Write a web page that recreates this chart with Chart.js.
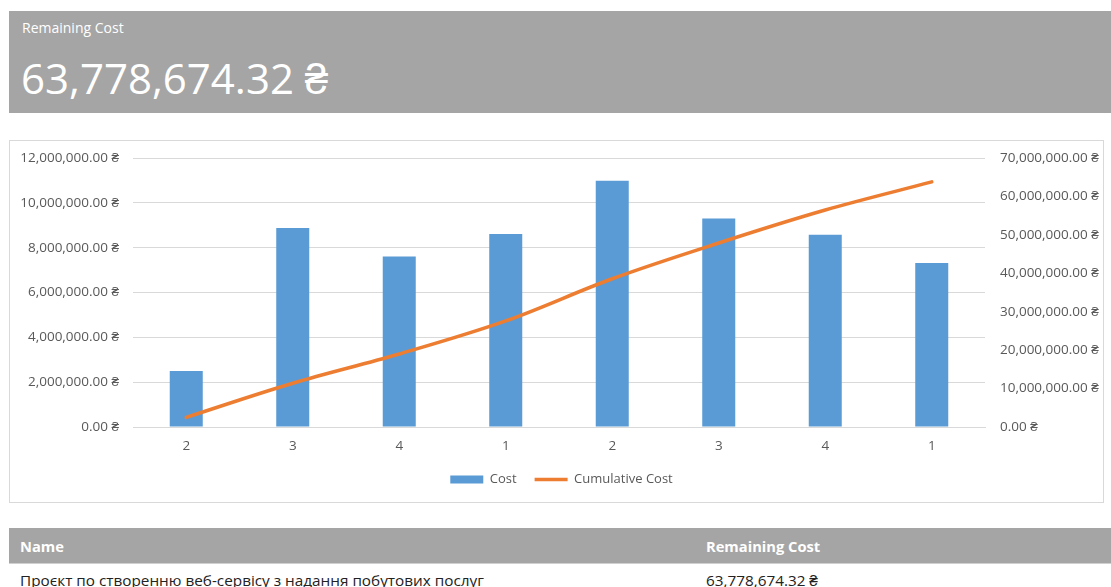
<!DOCTYPE html>
<html>
<head>
<meta charset="utf-8">
<title>Remaining Cost</title>
<script src="https://cdn.jsdelivr.net/npm/chart.js@4/dist/chart.umd.min.js"></script>
<style>
  html, body { margin: 0; padding: 0; background: #fff; overflow: hidden; }
  body { width: 1111px; height: 587px; position: relative; font-family: "Open Sans", sans-serif; }
  .card { position: absolute; left: 9px; top: 11px; width: 1102px; height: 102px; background: #a5a5a5; color: #fff; }
  .card .label { position: absolute; left: 13px; top: 7px; font-size: 14px; }
  .card .value { position: absolute; left: 12px; top: 39px; font-size: 42px; line-height: 56px; }
  .chart-box { position: absolute; left: 9px; top: 140px; width: 1093px; height: 361px; border: 1px solid #d9d9d9; }
  .chart-box canvas { display: block; }
  table { position: absolute; left: 9px; top: 528px; width: 1102px; border-collapse: collapse; font-size: 15.3px; }
  th { background: #a5a5a5; color: #fff; text-align: left; font-weight: 700; font-size: 14.7px; height: 35px; padding: 0 0 0 11px; border-bottom: 1px solid #d0d0d0; }
  td { color: #222; padding: 6px 0 0 11px; }
</style>
</head>
<body>
<div class="card">
  <div class="label">Remaining Cost</div>
  <div class="value">63,778,674.32 ₴</div>
</div>

<div class="chart-box"><canvas id="costChart" width="1093" height="361"></canvas></div>

<table>
  <tr><th style="width:675px">Name</th><th>Remaining Cost</th></tr>
  <tr><td>Проєкт по створенню веб-сервісу з надання побутових послуг</td><td>63,778,674.32 ₴</td></tr>
</table>

<script>
const periods = ['2', '3', '4', '1', '2', '3', '4', '1'];
const cost = [2500000, 8880000, 7610000, 8610000, 10980000, 9300000, 8580000, 7318674.32];
const cumulativeCost = [2500000, 11380000, 18990000, 27600000, 38580000, 47880000, 56460000, 63778674.32];

const blue = '#5b9bd5';
const orange = '#ed7d31';
const gridColor = '#d9d9d9';
const tickColor = '#595959';

function money(value) {
  return Number(value).toLocaleString('en-US', { minimumFractionDigits: 2, maximumFractionDigits: 2 }) + ' ₴';
}

// fixed axis widths; drop the half-label padding so the plot area sits where the layout padding says
function fixWidth(width) {
  return (scale) => {
    scale.width = width;
    scale.paddingTop = 0;
    scale.paddingBottom = 0;
  };
}

const tickFont = { family: '"Open Sans", sans-serif', size: 13.5 };
const legendFont = { family: '"Open Sans", sans-serif', size: 13 };

new Chart(document.getElementById('costChart'), {
  data: {
    labels: periods,
    datasets: [
      {
        type: 'line',
        label: 'Cumulative Cost',
        data: cumulativeCost,
        yAxisID: 'yRight',
        borderColor: orange,
        backgroundColor: orange,
        borderWidth: 3.5,
        borderCapStyle: 'round',
        tension: 0.35,
        pointRadius: 0,
        pointStyle: 'line',
        order: 0,
      },
      {
        type: 'bar',
        label: 'Cost',
        data: cost,
        yAxisID: 'yLeft',
        backgroundColor: blue,
        borderWidth: 0,
        barPercentage: 0.31,
        categoryPercentage: 1,
        pointStyle: 'rect',
        order: 1,
      },
    ],
  },
  options: {
    responsive: false,
    animation: false,
    layout: { padding: { top: 17, left: 10, right: 0, bottom: 6 } },
    scales: {
      x: {
        grid: { display: false, drawTicks: false },
        border: { display: true, color: gridColor },
        ticks: { color: tickColor, font: tickFont, padding: 11, maxRotation: 0 },
        afterFit: (scale) => { scale.height = 28; },
      },
      yLeft: {
        position: 'left',
        min: 0,
        max: 12000000,
        grid: { color: gridColor, drawTicks: false },
        border: { display: false },
        ticks: { stepSize: 2000000, color: tickColor, font: tickFont, padding: 14, callback: money },
        afterFit: fixWidth(113),
      },
      yRight: {
        position: 'right',
        min: 0,
        max: 70000000,
        grid: { display: false, drawTicks: false },
        border: { display: false },
        ticks: { stepSize: 10000000, color: tickColor, font: tickFont, padding: 15, callback: money },
        afterFit: fixWidth(118),
      },
    },
    plugins: {
      tooltip: { enabled: false },
      legend: {
        position: 'bottom',
        labels: {
          color: tickColor,
          font: legendFont,
          usePointStyle: true,
          pointStyleWidth: 33,
          boxHeight: 8,
          padding: 18,
          // bar first, then the line, each drawn in its own style
          generateLabels: (chart) => {
            const items = Chart.defaults.plugins.legend.labels.generateLabels(chart);
            items.forEach((item) => {
              const ds = chart.data.datasets[item.datasetIndex];
              item.pointStyle = ds.pointStyle;
              if (ds.type === 'bar') {
                item.lineWidth = 0;
                item.fillStyle = blue;
              } else {
                item.lineWidth = 3.5;
                item.strokeStyle = orange;
              }
            });
            return items.reverse();
          },
        },
      },
    },
  },
});
</script>
</body>
</html>
